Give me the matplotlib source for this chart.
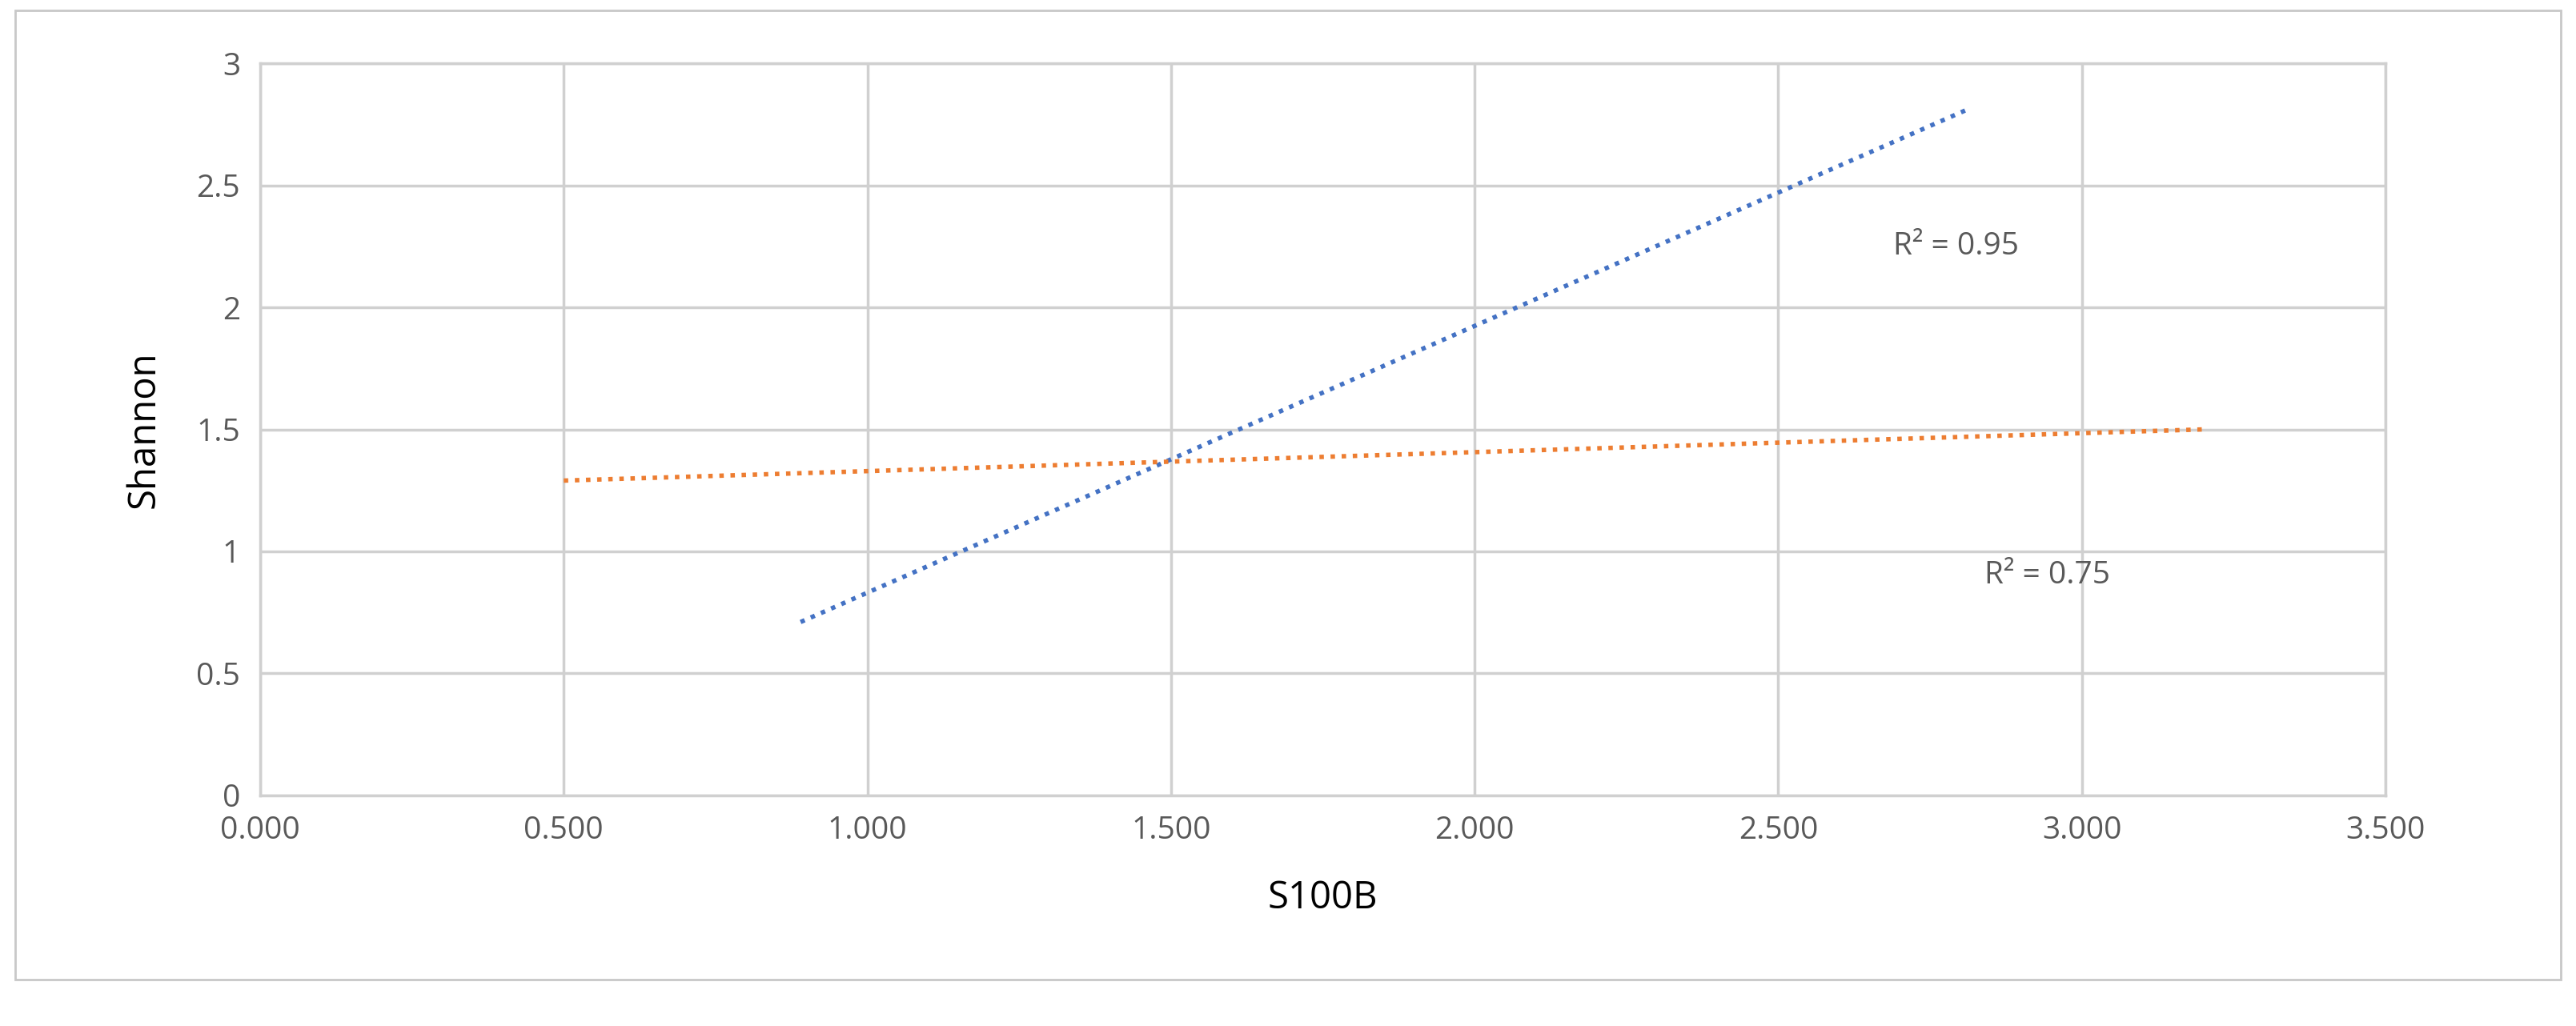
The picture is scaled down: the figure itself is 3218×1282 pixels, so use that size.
import matplotlib
matplotlib.use("Agg")
import matplotlib.pyplot as plt
from matplotlib.patches import Rectangle

blue_x = [0.89, 2.81]
blue_y = [0.71, 2.81]
orange_x = [0.50, 3.20]
orange_y = [1.29, 1.50]
xticks = [0.0, 0.5, 1.0, 1.5, 2.0, 2.5, 3.0, 3.5]
yticks = [0, 0.5, 1, 1.5, 2, 2.5, 3]
labels = [("R² = 0.95", 2.69, 2.25), ("R² = 0.75", 2.84, 0.90)]

plt.rcParams['font.family'] = ['Open Sans', 'DejaVu Sans']
fig = plt.figure(figsize=(32.18, 12.82), dpi=100)
ax = fig.add_axes([0.101, 0.225, 0.825, 0.713])
fig.patches.append(Rectangle((0.006, 0.045), 0.988, 0.945, transform=fig.transFigure,
                             fill=False, edgecolor='#c8c8c8', linewidth=2))
ax.plot(blue_x, blue_y, color='#4472C4', linestyle=(0, (1, 1.5)), linewidth=4)
ax.plot(orange_x, orange_y, color='#ED7D31', linestyle=(0, (1, 1.5)), linewidth=4)
for t, x, y in labels:
    ax.text(x, y, t, fontsize=28, color='#595959', va='center')
ax.set_xlim(0, 3.5)
ax.set_ylim(0, 3)
ax.set_xticks(xticks)
ax.set_xticklabels([f"{v:.3f}" for v in xticks])
ax.set_yticks(yticks)
ax.set_yticklabels([f"{v:g}" for v in yticks])
ax.grid(True, color='#d0d0d0', linewidth=2.5)
for s in ax.spines.values():
    s.set_color('#d0d0d0'); s.set_linewidth(2.5)
ax.tick_params(length=0, labelsize=28, labelcolor='#595959', pad=18)
ax.set_xlabel("S100B", fontsize=34, color='#000000', labelpad=30)
ax.set_ylabel("Shannon", fontsize=34, color='#000000', labelpad=30)
fig.savefig("out.png", dpi=100, facecolor='white')
